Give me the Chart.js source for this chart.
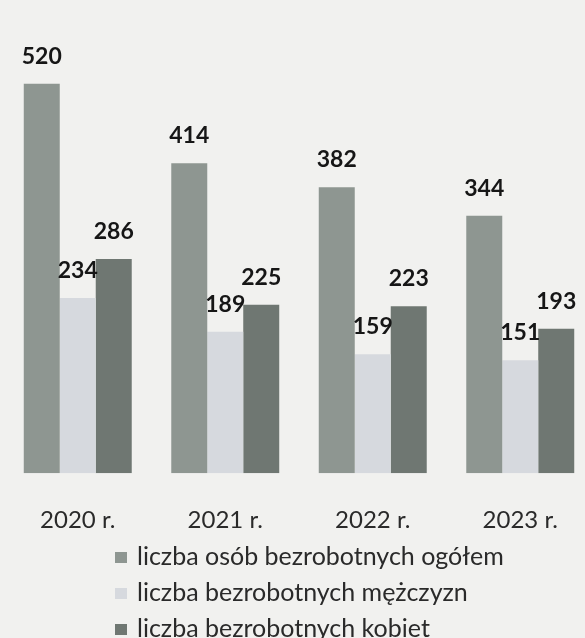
<!DOCTYPE html>
<html>
<head>
<meta charset="utf-8">
<script src="https://cdn.jsdelivr.net/npm/chart.js@4.4.1/dist/chart.umd.min.js"></script>
<style>
  html, body { margin: 0; padding: 0; overflow: hidden; background: #f1f1ef; }
  #wrap { position: relative; width: 600px; height: 638px; }
  #legend { position: absolute; left: 115px; top: 537px; font-family: Lato, sans-serif; font-size: 25px; color: #2a2a2a; }
  #legend div { height: 36px; line-height: 36px; white-space: nowrap; }
  #legend span { display: inline-block; width: 12px; height: 11px; margin-right: 10px; vertical-align: 2px; }
</style>
</head>
<body>
<div id="wrap">
  <canvas id="chart" width="600" height="638"></canvas>
  <div id="legend"></div>
</div>
<script>
// data
const years = ["2020 r.", "2021 r.", "2022 r.", "2023 r."];
const seriesNames = [
  "liczba osób bezrobotnych ogółem",
  "liczba bezrobotnych mężczyzn",
  "liczba bezrobotnych kobiet"
];
const totalValues = [520, 414, 382, 344];
const menValues = [234, 189, 159, 151];
const womenValues = [286, 225, 223, 193];
const barColors = ["#8e9691", "#d6d9de", "#6f7772"];

// simple value labels above bars (no datalabels plugin offline)
const valueLabels = {
  id: "valueLabels",
  afterDatasetsDraw(chart) {
    const ctx = chart.ctx;
    ctx.save();
    ctx.font = "bold 23px Lato, sans-serif";
    ctx.fillStyle = "#161616";
    ctx.textAlign = "center";
    ctx.textBaseline = "bottom";
    chart.data.datasets.forEach((ds, i) => {
      chart.getDatasetMeta(i).data.forEach((bar, j) => {
        ctx.fillText(ds.data[j], bar.x, bar.y - 16);
      });
    });
    ctx.restore();
  }
};

const chart = new Chart(document.getElementById("chart"), {
  type: "bar",
  data: {
    labels: years,
    datasets: [
      { label: seriesNames[0], data: totalValues, backgroundColor: barColors[0] },
      { label: seriesNames[1], data: menValues, backgroundColor: barColors[1] },
      { label: seriesNames[2], data: womenValues, backgroundColor: barColors[2] }
    ]
  },
  plugins: [valueLabels],
  options: {
    responsive: false,
    animation: false,
    layout: { padding: { left: 4, right: 6, top: 0, bottom: 70 } },
    datasets: { bar: { categoryPercentage: 0.732, barPercentage: 1.0 } },
    scales: {
      x: {
        grid: { display: false, drawTicks: false },
        border: { display: false },
        ticks: { padding: 33, color: "#2a2a2a", font: { family: "Lato, sans-serif", size: 24 } }
      },
      y: { display: false, min: 0, max: 632 }
    },
    plugins: {
      legend: { display: false },
      tooltip: { enabled: false }
    }
  }
});

// legend as plain text rows, boxes left-aligned like the scan
const legendEl = document.getElementById("legend");
chart.data.datasets.forEach((ds) => {
  const row = document.createElement("div");
  row.innerHTML = `<span style="background:${ds.backgroundColor}"></span>${ds.label}`;
  legendEl.appendChild(row);
});
</script>
</body>
</html>
